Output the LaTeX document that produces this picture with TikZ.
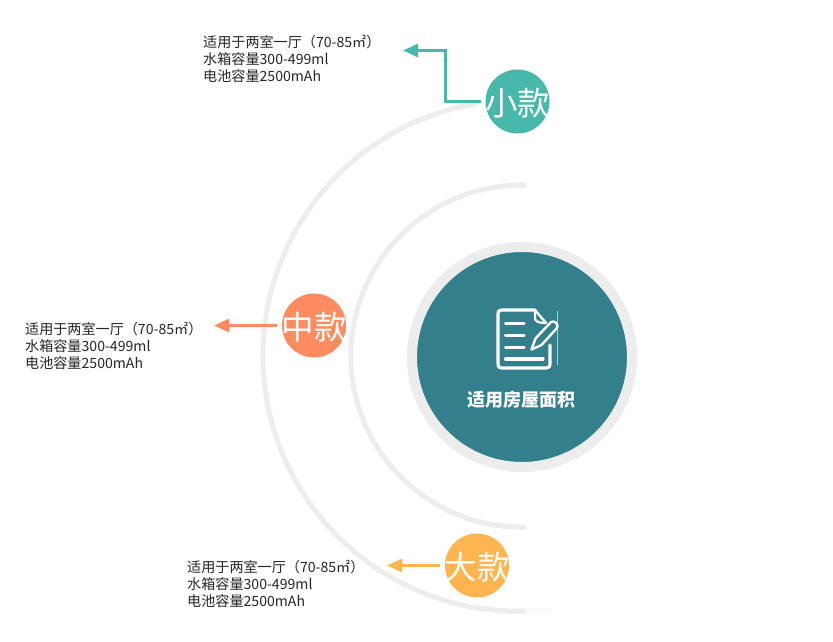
\documentclass[tikz,border=0pt]{standalone}
\usepackage{fontspec}
\setmainfont{Noto Sans CJK SC}
\usetikzlibrary{arrows.meta}
\tikzset{
 x=1pt,y=-1pt,
 ring/.style={draw=black!7,line width=5pt,fill=none},
 badge/.style={circle,minimum size=64pt,inner sep=0pt},
 badgetext/.style={inner sep=0pt,yshift=-2pt,text=white,font=\fontsize{32.5}{33}\selectfont},
 info/.style={anchor=north west,align=left,inner sep=0pt,text=black!85,font=\fontsize{14.1}{17}\selectfont},
 lead/.style={line width=3pt,-{Triangle[length=15pt,width=13pt]}},
 ico/.style={draw=white,line width=3.2pt,line cap=round,line join=round},
}
\definecolor{teal1}{HTML}{33808C}
\definecolor{green1}{HTML}{48B8AB}
\definecolor{orange1}{HTML}{FF8C60}
\definecolor{yellow1}{HTML}{FFB54F}
\begin{document}
\begin{tikzpicture}
\useasboundingbox (0,0) rectangle (833,641);
\fill[white] (0,0) rectangle (833,641);
% arcs
\draw[ring] (526,611.1) arc[start angle=88.3,end angle=260.65,radius=255.5];
\draw[ring,draw=black!2] (526,611.1) -- (552,610);
\draw[ring] (526,527) arc[start angle=88.6,end angle=271.4,radius=171];
% centre
\node[circle,draw=black!7,line width=10pt,fill=teal1,minimum size=220pt,inner sep=0pt] (hub) at (522,357) {};
\node[text=white,font=\fontsize{18}{18}\selectfont\bfseries,inner sep=0pt] (title) at (521.5,400) {适用房屋面积};
% icon
\draw[ico] (535,310) -- (503,310) .. controls (499,310) and (498,311) .. (498,315) -- (498,363) .. controls (498,367) and (499,368) .. (503,368) -- (546,368) .. controls (549,368) and (550,367) .. (550,363) -- (550,345);
\draw[ico,line width=2.4pt] (535,310) -- (546,323);
\draw[ico,line width=2.2pt] (535,311) -- (535,318) .. controls (535,321) and (538,323) .. (545,323);
\draw[ico] (505.5,323.3) -- (524,323.3) (505.5,335.7) -- (524,335.7) (505.5,347.3) -- (524,347.3) (505.5,359) -- (543,359);
\draw[ico,line width=2.4pt] (531.5,349.5) -- (535.5,338.5) -- (550.5,322.5) .. controls (552,321) and (554,321) .. (555.5,322.5) -- (556.5,323.5) .. controls (558,325) and (558,327) .. (556.5,328.5) -- (541.5,345) -- cycle;
\draw[white,opacity=.6,line width=.6pt] (557.5,311) -- (557.5,365);
% badges
\node[badge,fill=green1] (small) at (517.5,101.5) {};
\node[badgetext] (lsmall) at (small.center) {小款};
\node[badge,fill=orange1] (mid) at (314,325.5) {};
\node[badgetext] (lmid) at (mid.center) {中款};
\node[badge,fill=yellow1] (big) at (477,565.5) {};
\node[badgetext] (lbig) at (big.center) {大款};
% info
\node[info] (tsmall) at (203,35) {适用于两室一厅（70-85㎡）\\水箱容量300-499ml\\电池容量2500mAh};
\node[info] (tmid) at (25,322) {适用于两室一厅（70-85㎡）\\水箱容量300-499ml\\电池容量2500mAh};
\node[info] (tbig) at (187,560) {适用于两室一厅（70-85㎡）\\水箱容量300-499ml\\电池容量2500mAh};
% leaders
\coordinate (a1) at (403,50.5);
\coordinate (a2) at (214,325.5);
\coordinate (a3) at (387,565.5);
\draw[lead,green1] (small.west) ++(-4,0) -| (445.5,50.5) -- (a1);
\draw[lead,orange1] (mid.west) ++(-5,0) -- (a2);
\draw[lead,yellow1] (big.west) ++(-5,0) -- (a3);
\end{tikzpicture}
\end{document}
